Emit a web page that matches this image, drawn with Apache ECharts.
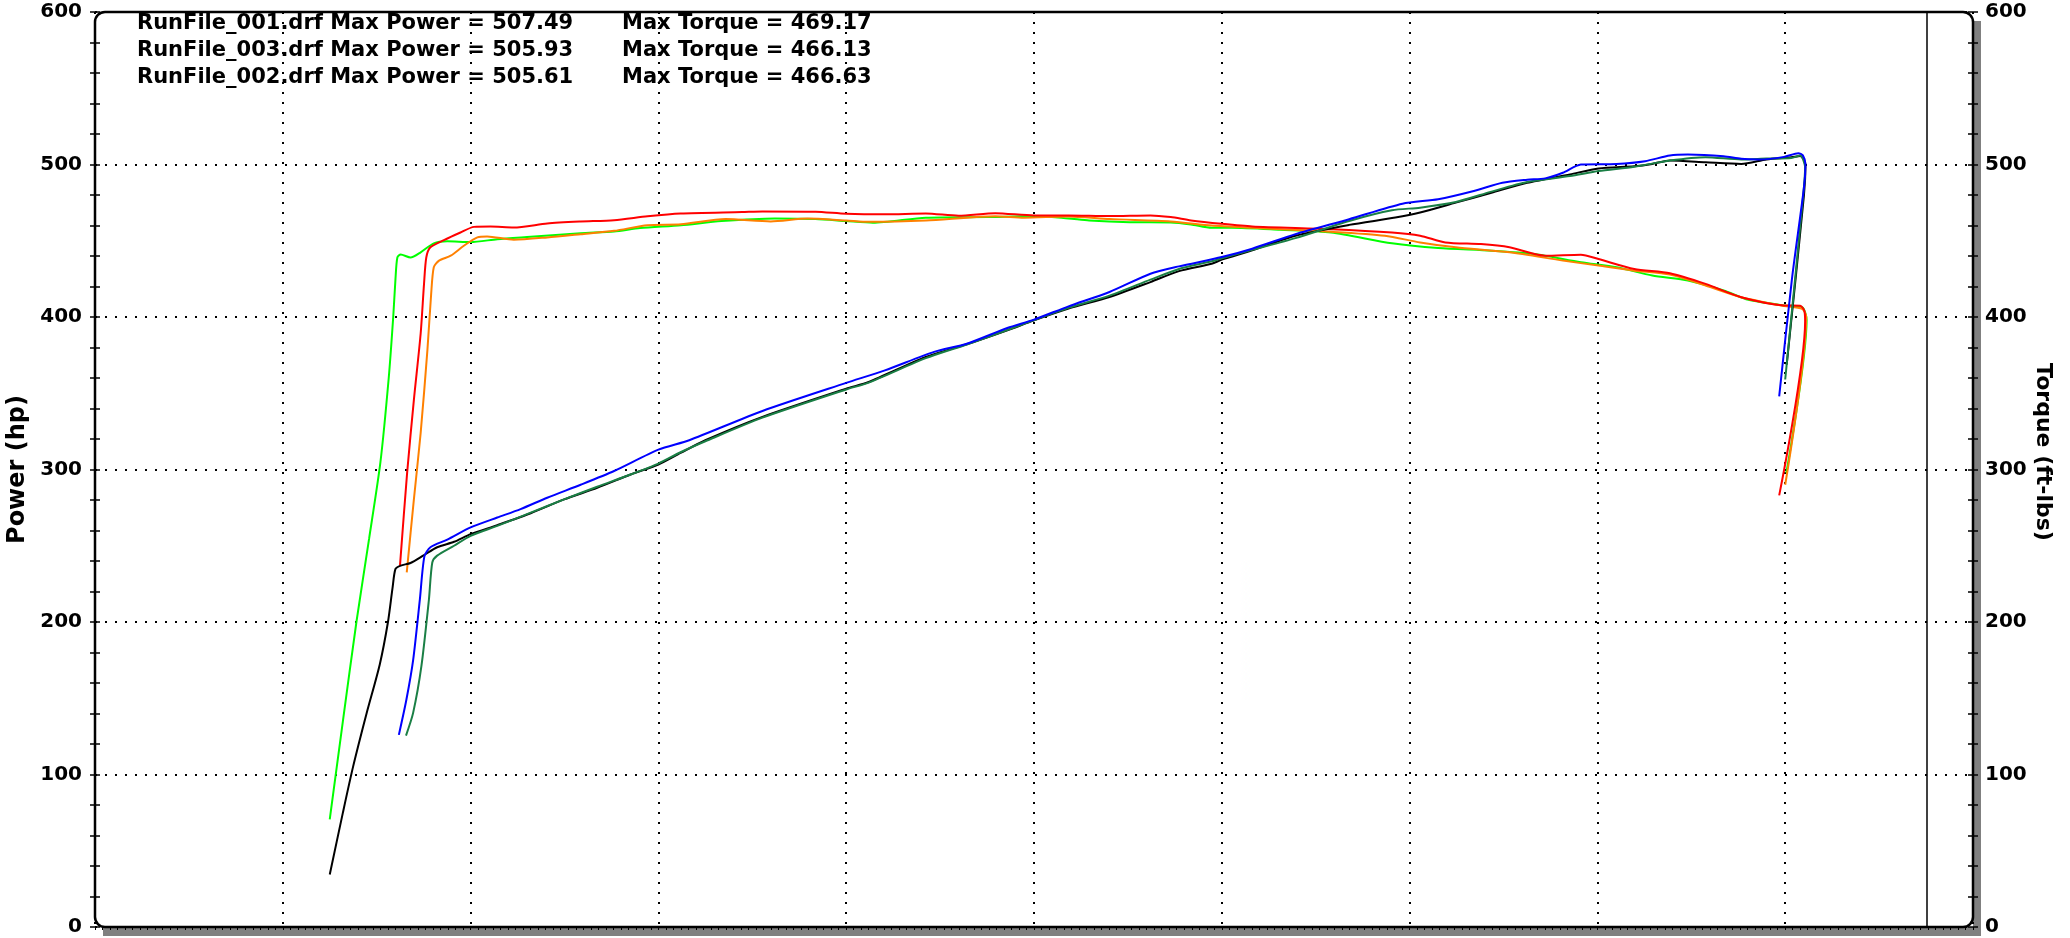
<!DOCTYPE html>
<html>
<head>
<meta charset="utf-8">
<script src="https://cdn.jsdelivr.net/npm/echarts@6/dist/echarts.min.js"></script>
<style>
html,body{margin:0;padding:0;background:#fff;}
#chart{width:2070px;height:938px;}
</style>
</head>
<body>
<div id="chart"></div>
<script>
// ---- data (x = engine speed, y = hp or ft-lbs) ----
const rpmMin = 2000, rpmMax = 7000, rpmStep = 500;
const valMin = 0, valMax = 600, valStep = 100;
const cursorRpm = 6878;

const runFiles  = ['RunFile_001.drf', 'RunFile_003.drf', 'RunFile_002.drf'];
const maxPower  = ['507.49', '505.93', '505.61'];
const maxTorque = ['469.17', '466.13', '466.63'];
const powerName = 'Power (hp)';
const torqueName = 'Torque (ft-lbs)';

// RunFile_001 power (blue)
const power001 = [
  [2809,126],[2829,149],[2847,175],[2865,215],[2877,243],[2893,249],[2938,254],[3000,262],[3071,268.5],
  [3133,274],[3204,281.5],[3293,290],[3382,299],[3500,313],[3582,319.2],[3777,338.4],[4000,356.8],
  [4103,365],[4234,377.1],[4321,382.5],[4429,392.8],[4500,398.3],[4592,407],[4701,416.4],[4810,428.4],
  [4886,433.2],[5000,439.3],[5081,444.8],[5196,454.3],[5339,464.1],[5481,474.3],[5576,477.2],
  [5671,482.6],[5747,488],[5813,490],[5861,490.9],[5908,494.6],[5956,500],[6051,500.4],[6127,502.2],
  [6193,505.9],[6241,506.5],[6336,505.4],[6383,503.7],[6431,503.3],[6497,505],[6535,507.4],[6547,506],
  [6554,500],[6550,485],[6518,425],[6484,348]
];
// RunFile_002 power (black)
const power002 = [
  [2625,34.4],[2660,75],[2687,105],[2723,140],[2758,172],[2780,200],[2792,222],[2800,234.8],[2814,237],
  [2840,238.7],[2876,243.9],[2911,249],[2956,252.6],[3000,257.6],[3071,263.5],[3160,271.3],[3249,280.4],
  [3337,288],[3426,296.7],[3500,303.3],[3559,310.9],[3625,319.2],[3777,334.5],[4000,353],[4060,357.4],
  [4212,373.8],[4321,382.1],[4429,391.3],[4500,397.8],[4592,405.5],[4701,413.1],[4810,422.9],
  [4886,430.1],[4973,434.9],[5000,437.6],[5081,443.7],[5196,453.3],[5339,460.4],[5462,465.2],
  [5528,468.5],[5623,475],[5718,481.5],[5813,488],[5927,493.5],[6003,497.4],[6098,498.9],[6146,500.4],
  [6193,502.6],[6288,501.5],[6383,500.4],[6450,503.3],[6516,504.8],[6540,505.6],[6554,500],
  [6550,480],[6504,368.7]
];
// RunFile_003 power (dark green)
const power003 = [
  [2828,125.5],[2847,140.4],[2869,171],[2889,214.6],[2898,239],[2911,243.5],[2956,250],[3000,256.5],
  [3071,263],[3160,271.7],[3249,280.4],[3337,288.7],[3426,296.7],[3500,303.9],[3559,311.3],[3625,318.5],
  [3777,334],[4000,352.5],[4060,357],[4212,373],[4321,382],[4429,391.5],[4500,398],[4592,406],
  [4701,414],[4810,424.5],[4886,431.5],[4973,436.5],[5000,438.5],[5081,444],[5196,451.7],[5339,463],
  [5453,470],[5528,471.7],[5623,475.4],[5718,482.2],[5813,488.5],[5927,492.4],[6003,495.7],
  [6098,498.5],[6193,502.6],[6288,504.8],[6383,503.3],[6450,503.9],[6516,504.3],[6540,505.9],
  [6553,498],[6548,480],[6500,359]
];
// RunFile_001 torque (red)
const torque001 = [
  [2812,237],[2831,297.8],[2849,345.7],[2867,389],[2876,421.7],[2882,439],[2893,445.7],[2929,450.4],
  [2973,455.4],[3009,459.1],[3053,459.3],[3115,458.7],[3204,461.3],[3293,462.6],[3382,463.5],
  [3471,466],[3559,467.8],[3723,468.8],[3777,469.2],[3918,469],[4000,467.7],[4103,467.3],[4212,467.9],
  [4299,466.4],[4397,468.1],[4500,466.6],[4592,466.6],[4701,466.2],[4810,466.6],[4864,465.5],
  [4918,463.3],[5000,461.1],[5081,459.4],[5291,457.6],[5453,455.4],[5528,453.3],[5595,448.9],
  [5690,447.8],[5766,445.7],[5861,440.2],[5956,440.9],[6003,438],[6098,431.5],[6193,428.7],
  [6288,421.7],[6383,413],[6497,407.6],[6540,407.4],[6551,404],[6553,397],[6484,283]
];
// RunFile_002 torque (bright green)
const torque002 = [
  [2625,70.5],[2660,135],[2696,200],[2730,255],[2760,305],[2782,360],[2794,400],[2800,425],[2805,439],
  [2814,441],[2840,439],[2867,442.4],[2902,448.3],[2938,449.6],[3000,449.1],[3071,451],[3160,452.6],
  [3293,455],[3382,456.1],[3451,458.3],[3560,460.2],[3668,462.9],[3810,464.6],[3918,464.2],
  [4000,462.9],[4071,461.8],[4212,465.1],[4375,465.5],[4500,466.2],[4592,464.6],[4647,463.3],
  [4755,462.2],[4864,462],[4918,460.7],[4973,458.5],[5027,458.5],[5155,457.2],[5291,455.4],
  [5453,448.3],[5576,445.2],[5718,443.5],[5832,441.3],[5956,435.9],[6051,432.6],[6146,427.2],
  [6241,423.9],[6336,417.4],[6402,411.3],[6497,407.6],[6545,406.5],[6557,398],[6503,297.7]
];
// RunFile_003 torque (orange)
const torque003 = [
  [2830,232.6],[2849,280.4],[2867,323.9],[2885,378.3],[2895,415.2],[2902,432.6],[2916,437],
  [2947,440.2],[2982,446.7],[3018,452.2],[3044,452.8],[3115,450.7],[3204,452.2],[3293,454.3],
  [3382,456.5],[3471,460.2],[3560,460.8],[3679,464.2],[3799,462.7],[3897,464.6],[4000,463.3],
  [4060,462.4],[4212,463.3],[4397,466.1],[4473,465.1],[4592,465.9],[4701,464.2],[4864,462.7],
  [4973,460],[5081,458.5],[5291,455.9],[5434,453.3],[5528,448.9],[5623,445.7],[5766,442.4],
  [5908,437],[6003,433.7],[6098,430.4],[6193,427.8],[6288,420.7],[6383,413],[6497,407.2],
  [6545,405.4],[6556,400],[6500,290]
];

// ---- layout / style ----
const G = {left: 95, top: 12, right: 97, bottom: 11};
const W = 2070, H = 938;
const FONT = 'DejaVu Sans';

const chart = echarts.init(document.getElementById('chart'), null, {renderer: 'canvas'});

function yAxisBase(pos, withLabels, inside) {
  return {
    type: 'value', position: pos, min: valMin, max: valMax, interval: valStep,
    axisLine: {show: false},
    axisTick: {show: true, inside: inside, length: 5, lineStyle: {color: '#000', width: 1.5}},
    minorTick: {show: true, splitNumber: 5, length: 5, lineStyle: {color: '#000', width: 1.5}},
    axisLabel: {show: withLabels, color: '#000', fontFamily: FONT, fontWeight: 'bold', fontSize: 20,
                margin: pos === 'left' ? 13 : 12},
    splitLine: {show: false}
  };
}

const yPower = Object.assign(yAxisBase('left', true, true), {
  name: powerName, nameLocation: 'middle', nameGap: 63, nameRotate: 90,
  nameTextStyle: {color: '#000', fontFamily: FONT, fontWeight: 'bold', fontSize: 24},
  splitLine: {show: true, lineStyle: {color: '#000', type: [2, 8], width: 2}}
});
const yTorque = yAxisBase('right', true, true);
const yPowerOut = yAxisBase('left', false, false);
const yTorqueOut = yAxisBase('right', false, false);

function lineSeries(name, data, color, yIdx, extra) {
  return Object.assign({
    name: name, type: 'line', data: data, xAxisIndex: 0, yAxisIndex: yIdx,
    showSymbol: false, symbol: 'none', smooth: 0.25, clip: true,
    lineStyle: {color: color, width: 2}, itemStyle: {color: color},
    animation: false
  }, extra || {});
}

const textEls = [];
const lineY = [24, 51, 78];
for (let i = 0; i < runFiles.length; i++) {
  textEls.push({type: 'text', x: 137, y: lineY[i], z: 200,
    style: {text: runFiles[i] + ' Max Power = ' + maxPower[i], fill: '#000',
            font: 'bold 21px "' + FONT + '"', verticalAlign: 'middle', align: 'left'}});
  textEls.push({type: 'text', x: 622, y: lineY[i], z: 200,
    style: {text: 'Max Torque = ' + maxTorque[i], fill: '#000',
            font: 'bold 21px "' + FONT + '"', verticalAlign: 'middle', align: 'left'}});
}
// right axis title (reads top to bottom)
textEls.push({type: 'text', x: 2043, y: 452, rotation: -Math.PI / 2, z: 200,
  style: {text: torqueName, fill: '#000', font: 'bold 22px "' + FONT + '"',
          align: 'center', verticalAlign: 'middle'}});

const option = {
  backgroundColor: '#fff',
  animation: false,
  grid: {left: G.left, top: G.top, right: G.right, bottom: G.bottom, show: true,
         containLabel: false, outerBoundsMode: 'none',
         backgroundColor: '#fff', borderWidth: 0,
         shadowColor: '#808080', shadowBlur: 0, shadowOffsetX: 8, shadowOffsetY: 9},
  xAxis: [
    {type: 'value', min: rpmMin, max: rpmMax, interval: rpmStep, position: 'bottom',
     axisLine: {show: false}, axisTick: {show: false}, axisLabel: {show: false},
     splitLine: {show: true, lineStyle: {color: '#000', type: [2, 8], width: 2}}},
    {type: 'value', min: rpmMin, max: rpmMax, interval: 20, position: 'top',
     axisLine: {show: false}, axisLabel: {show: false},
     axisTick: {show: true, inside: true, length: 3, lineStyle: {color: '#000', width: 1}},
     splitLine: {show: false}}
  ],
  yAxis: [yPower, yTorque, yPowerOut, yTorqueOut],
  series: [
    lineSeries('RunFile_002 Torque', torque002, '#00ff00', 1),
    lineSeries('RunFile_003 Torque', torque003, '#ff8000', 1),
    lineSeries('RunFile_001 Torque', torque001, '#ff0000', 1, {
      markLine: {silent: true, symbol: ['none', 'none'], label: {show: false},
                 lineStyle: {color: '#000', type: 'solid', width: 1.5},
                 data: [{xAxis: cursorRpm}]}
    }),
    lineSeries('RunFile_002 Power', power002, '#000000', 0),
    lineSeries('RunFile_003 Power', power003, '#1a7f45', 0),
    lineSeries('RunFile_001 Power', power001, '#0000ff', 0)
  ],
  graphic: [
    {type: 'rect', z: 150, silent: true,
     shape: {x: G.left, y: G.top, width: W - G.left - G.right, height: H - G.top - G.bottom, r: 10},
     style: {fill: 'none', stroke: '#000', lineWidth: 2.5}}
  ].concat(textEls)
};
chart.setOption(option);
</script>
</body>
</html>
